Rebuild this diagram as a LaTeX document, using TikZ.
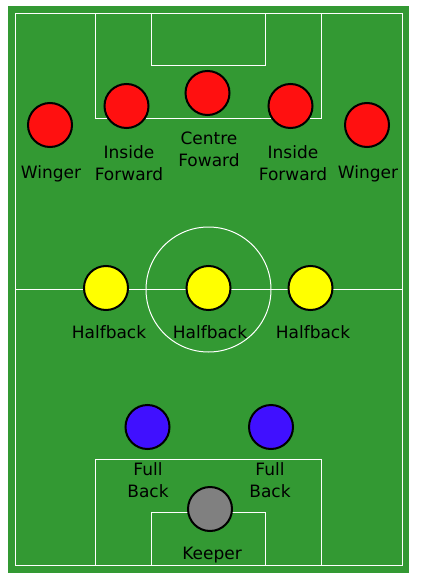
\documentclass[tikz,border=0pt]{standalone}
\usepackage{fontspec}
\setmainfont{DejaVu Sans}
\begin{document}
\begin{tikzpicture}[x=1pt,y=-1pt,
  pline/.style={draw=white,line width=1pt},
  player/.style={circle,draw=black,line width=2pt,minimum size=44pt,inner sep=0pt},
  lbl/.style={anchor=base,align=center,font=\fontsize{17}{22}\selectfont,inner sep=0pt}]
\definecolor{pitch}{RGB}{51,153,51}
\definecolor{pred}{RGB}{255,16,16}
\definecolor{pyellow}{RGB}{255,255,0}
\definecolor{pblue}{RGB}{64,16,255}
\definecolor{pgrey}{RGB}{128,128,128}
\useasboundingbox (0,0) rectangle (422,580);
\fill[white] (0,0) rectangle (422,580);
\fill[pitch] (8,6) rectangle (409,573);
\draw[pline] (15,13.5) rectangle (402,565.5);
\draw[pline] (15,289.5) -- (402,289.5);
\draw[pline] (208.5,289.5) circle (62.5);
\draw[pline] (95.5,13.5) -- (95.5,119) -- (321.5,119) -- (321.5,13.5);
\draw[pline] (151.5,13.5) -- (151.5,66) -- (265.5,66) -- (265.5,13.5);
\draw[pline] (95.5,565.5) -- (95.5,459.5) -- (321.5,459.5) -- (321.5,565.5);
\draw[pline] (151.5,565.5) -- (151.5,512.5) -- (265.5,512.5) -- (265.5,565.5);
% forwards
\node[player,fill=pred] (lw) at (50,125) {};
\node[player,fill=pred] (lif) at (126.5,106) {};
\node[player,fill=pred] (cf) at (207.5,93) {};
\node[player,fill=pred] (rif) at (290.5,106) {};
\node[player,fill=pred] (rw) at (367,125) {};
% halfbacks
\node[player,fill=pyellow] (lh) at (106,288) {};
\node[player,fill=pyellow] (ch) at (208.5,288) {};
\node[player,fill=pyellow] (rh) at (310.5,288) {};
% full backs
\node[player,fill=pblue] (lb) at (147.5,427) {};
\node[player,fill=pblue] (rb) at (271,427) {};
% keeper
\node[player,fill=pgrey] (gk) at (210,509) {};
% labels
\node[lbl] (tlw) at (51,178.5) {Winger};
\node[lbl] (tlif) at (129,180.5) {Inside\\Forward};
\node[lbl] (tcf) at (209,167) {Centre\\Foward};
\node[lbl] (trif) at (293,180.5) {Inside\\Forward};
\node[lbl] (trw) at (368,178.5) {Winger};
\node[lbl] (tlh) at (109,338.5) {Halfback};
\node[lbl] (tch) at (210,338.5) {Halfback};
\node[lbl] (trh) at (313,338.5) {Halfback};
\node[lbl] (tlb) at (148,497.5) {Full\\Back};
\node[lbl] (trb) at (270,497.5) {Full\\Back};
\node[lbl] (tgk) at (212,559) {Keeper};
\end{tikzpicture}
\end{document}
